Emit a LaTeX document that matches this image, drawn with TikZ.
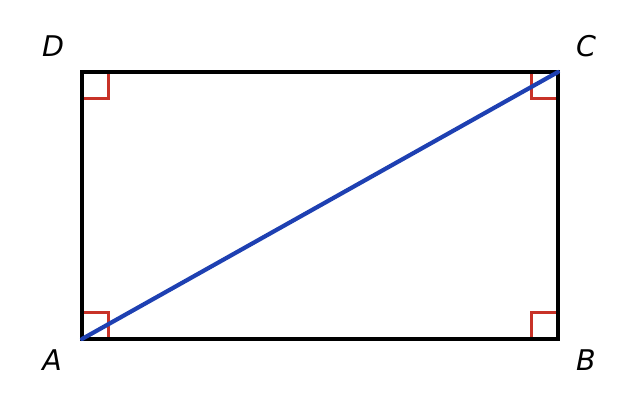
\documentclass[tikz,border=0pt]{standalone}
\usepackage{fontspec}
\usetikzlibrary{calc}
\setmainfont{DejaVu Sans}
\definecolor{markred}{RGB}{200,50,40}
\definecolor{diagblue}{RGB}{30,64,178}
\tikzset{
  side/.style={draw=black,line width=4.3pt},
  rightmark/.style={draw=markred,line width=3pt},
  diag/.style={draw=diagblue,line width=4.2pt,line cap=round},
  vlabel/.style={font=\itshape\fontsize{28.5}{28.5}\selectfont,inner sep=0pt}
}
\begin{document}
\begin{tikzpicture}[x=1pt,y=-1pt]
\useasboundingbox (0,0) rectangle (639,411);
\coordinate (A) at (82,339);
\coordinate (B) at (558,339);
\coordinate (C) at (558,72);
\coordinate (D) at (82,72);
% right-angle marks
\draw[rightmark] ($(A)+(0,-27)$) -- ++(26.5,0) -- ++(0,27);
\draw[rightmark] ($(B)+(0,-27)$) -- ++(-27,0) -- ++(0,27);
\draw[rightmark] ($(C)+(0,27)$) -- ++(-27,0) -- ++(0,-27);
\draw[rightmark] ($(D)+(0,27)$) -- ++(26.5,0) -- ++(0,-27);
% rectangle
\draw[side] (A) -- (B) -- (C) -- (D) -- cycle;
% diagonal
\draw[diag] (A) -- (C);
% labels
\node[vlabel] (lA) at (52,360) {A};
\node[vlabel] (lB) at (586,360) {B};
\node[vlabel] (lC) at (586,46) {C};
\node[vlabel] (lD) at (53,46) {D};
\end{tikzpicture}
\end{document}
